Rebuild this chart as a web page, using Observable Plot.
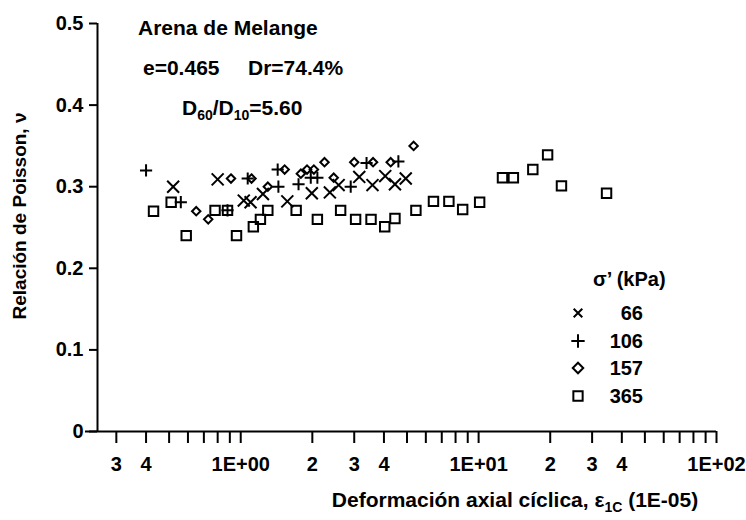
<!DOCTYPE html>
<html>
<head>
<meta charset="utf-8">
<script src="https://cdn.jsdelivr.net/npm/d3@7"></script>
<script src="https://cdn.jsdelivr.net/npm/@observablehq/plot@0.6"></script>
<style>
  html, body { margin: 0; padding: 0; background: #fff; }
  #chart { width: 746px; height: 520px; }
</style>
</head>
<body>
<div id="chart"></div>
<script>
// ---- data ----
const xDomain = [0.25, 100];
const yDomain = [0, 0.5];
const yTicks = [0, 0.1, 0.2, 0.3, 0.4, 0.5];
const yTickLabels = ["0", "0.1", "0.2", "0.3", "0.4", "0.5"];
const xTicks = [0.3, 0.4, 0.5, 0.6, 0.7, 0.8, 0.9, 1, 2, 3, 4, 5, 6, 7, 8, 9, 10, 20, 30, 40, 50, 60, 70, 80, 90, 100];
const xTickLabels = ["3", "4", "", "", "", "", "", "1E+00", "2", "3", "4", "", "", "", "", "", "1E+01", "2", "3", "4", "", "", "", "", "", "1E+02"];

const seriesNames = ["66", "106", "157", "365"];

// sigma' = 66 kPa (x)
const s66X = [0.52, 0.80, 1.03, 1.10, 1.24, 1.57, 1.99, 2.37, 2.58, 3.15, 3.58, 4.05, 4.45, 4.94];
const s66Y = [0.300, 0.309, 0.283, 0.281, 0.291, 0.282, 0.292, 0.293, 0.302, 0.312, 0.302, 0.313, 0.303, 0.310];

// sigma' = 106 kPa (+)
const s106X = [0.40, 0.56, 0.88, 1.07, 1.43, 1.44, 1.75, 1.97, 2.10, 2.90, 3.38, 4.60];
const s106Y = [0.320, 0.281, 0.271, 0.310, 0.321, 0.300, 0.303, 0.311, 0.311, 0.300, 0.329, 0.331];

// sigma' = 157 kPa (diamond)
const s157X = [0.65, 0.73, 0.91, 1.11, 1.30, 1.53, 1.79, 1.90, 2.03, 2.25, 2.46, 3.00, 3.60, 4.27, 5.33];
const s157Y = [0.270, 0.260, 0.310, 0.310, 0.300, 0.321, 0.316, 0.321, 0.321, 0.330, 0.311, 0.330, 0.330, 0.330, 0.350];

// sigma' = 365 kPa (square)
const s365X = [0.43, 0.51, 0.59, 0.78, 0.88, 0.96, 1.13, 1.21, 1.30, 1.71, 2.10, 2.63, 3.04, 3.53, 4.03, 4.45, 5.45, 6.46, 7.50, 8.57, 10.1, 12.6, 14.0, 16.9, 19.5, 22.3, 34.5];
const s365Y = [0.270, 0.281, 0.240, 0.271, 0.271, 0.240, 0.251, 0.260, 0.271, 0.271, 0.260, 0.271, 0.260, 0.260, 0.251, 0.261, 0.271, 0.282, 0.282, 0.272, 0.281, 0.311, 0.311, 0.321, 0.339, 0.301, 0.292];

// ---- build tables ----
const toRows = (xs, ys, name) => xs.map((x, i) => ({x, y: ys[i], s: name}));
const rows66 = toRows(s66X, s66Y, seriesNames[0]);
const rows106 = toRows(s106X, s106Y, seriesNames[1]);
const rows157 = toRows(s157X, s157Y, seriesNames[2]);
const rows365 = toRows(s365X, s365Y, seriesNames[3]);
const xTickRows = xTicks.map((v, i) => ({v, label: xTickLabels[i]}));
const yTickRows = yTicks.map((v, i) => ({v, label: yTickLabels[i]}));

const FONT = "'Liberation Sans', Arial, Helvetica, sans-serif";
const ink = "#000";

const plot = Plot.plot({
  width: 746,
  height: 520,
  marginLeft: 97,
  marginRight: 30,
  marginTop: 23,
  marginBottom: 89,
  style: {fontFamily: FONT, fontSize: "20px", fontWeight: "bold", color: ink, background: "#fff", overflow: "visible"},
  x: {type: "log", domain: xDomain, axis: null},
  y: {domain: yDomain, axis: null},
  marks: [
    // x ticks (downward) and labels
    Plot.ruleX(xTickRows, {x: "v", y1: yDomain[0], y2: yDomain[0], insetBottom: -12, stroke: ink, strokeWidth: 2}),
    Plot.text(xTickRows, {x: "v", text: "label", frameAnchor: "bottom", dy: 33, lineAnchor: "middle",
                          fontSize: 20, fontWeight: "bold", fill: ink}),
    // y ticks (leftward) and labels
    Plot.ruleY(yTickRows, {y: "v", x1: xDomain[0], x2: xDomain[0], insetLeft: -8, stroke: ink, strokeWidth: 2}),
    Plot.text(yTickRows, {y: "v", text: "label", frameAnchor: "left", dx: -14, textAnchor: "end",
                          fontSize: 20, fontWeight: "bold", fill: ink}),
    // axis lines
    Plot.ruleY([yDomain[0]], {stroke: ink, strokeWidth: 2, insetLeft: -12}),
    Plot.ruleX([xDomain[0]], {stroke: ink, strokeWidth: 2}),
    // data
    Plot.dot(rows365, {x: "x", y: "y", symbol: "square2", r: 6, fill: "none", stroke: ink, strokeWidth: 2}),
    Plot.dot(rows157, {x: "x", y: "y", symbol: "diamond2", r: 3.8, fill: "none", stroke: ink, strokeWidth: 2}),
    Plot.dot(rows106, {x: "x", y: "y", symbol: "plus", r: 4, fill: "none", stroke: ink, strokeWidth: 2}),
    Plot.dot(rows66, {x: "x", y: "y", symbol: "times", r: 5.5, fill: "none", stroke: ink, strokeWidth: 2})
  ]
});

document.getElementById("chart").appendChild(plot);

// ---- annotations, titles and legend (real SVG text) ----
const svg = d3.select(plot);
const g = svg.append("g")
  .attr("font-family", FONT)
  .attr("font-weight", "bold")
  .attr("text-anchor", "start")
  .attr("fill", ink);

function label(x, y, txt, size = 21, anchor = "start") {
  return g.append("text").attr("x", x).attr("y", y).attr("font-size", size)
    .attr("text-anchor", anchor).text(txt);
}

label(138, 35, "Arena de Melange");
label(143, 75, "e=0.465");
label(248, 75, "Dr=74.4%");

const dd = g.append("text").attr("x", 182).attr("y", 115).attr("font-size", 21).attr("text-anchor", "start");
dd.append("tspan").text("D");
dd.append("tspan").attr("font-size", 14).attr("dy", 5).text("60");
dd.append("tspan").attr("dy", -5).text("/D");
dd.append("tspan").attr("font-size", 14).attr("dy", 5).text("10");
dd.append("tspan").attr("dy", -5).text("=5.60");

// y-axis title
g.append("text")
  .attr("transform", "translate(26,216) rotate(-90)")
  .attr("text-anchor", "middle")
  .attr("font-size", 19)
  .text("Relación de Poisson, ν");

// x-axis title
const xt = g.append("text").attr("x", 515).attr("y", 507).attr("text-anchor", "middle").attr("font-size", 21);
xt.append("tspan").text("Deformación axial cíclica, ε");
xt.append("tspan").attr("font-size", 14).attr("dy", 5).text("1C");
xt.append("tspan").attr("dy", -5).text(" (1E-05)");

// legend
label(593, 286, "σ’ (kPa)", 20);
const legendSymbols = [d3.symbolTimes, d3.symbolPlus, d3.symbolDiamond2, d3.symbolSquare2];
const legendSizes = [50, 60, 70, 110];
const legendRowsY = [313, 341, 368, 396];
seriesNames.forEach((name, i) => {
  g.append("path")
    .attr("transform", `translate(578,${legendRowsY[i]})`)
    .attr("d", d3.symbol(legendSymbols[i], legendSizes[i])())
    .attr("fill", "none").attr("stroke", ink).attr("stroke-width", 2);
  label(643, legendRowsY[i] + 7, name, 20, "end");
});
</script>
</body>
</html>
